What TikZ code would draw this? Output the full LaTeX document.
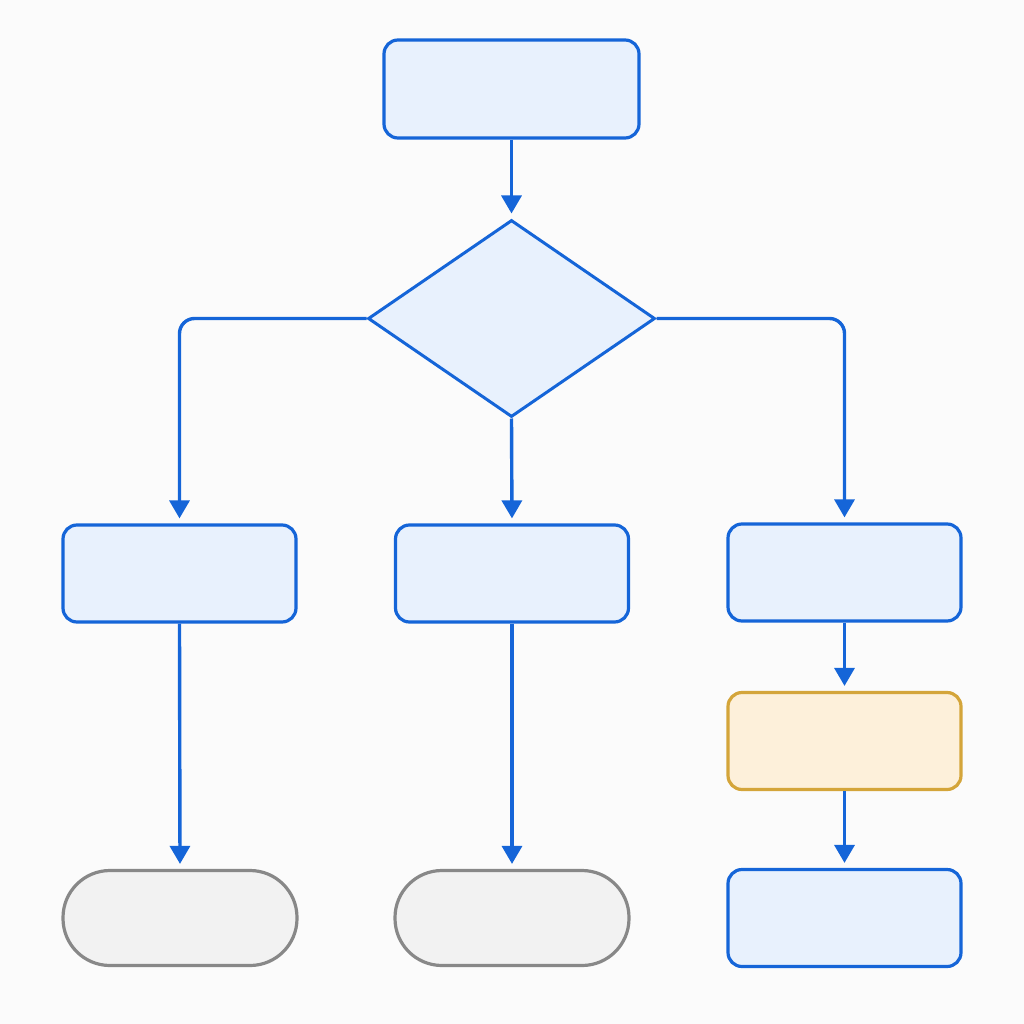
\documentclass[tikz,border=0pt]{standalone}
\usetikzlibrary{shapes.geometric,arrows.meta}
\definecolor{bl}{HTML}{1565D8}
\definecolor{blf}{HTML}{E8F1FD}
\definecolor{orl}{HTML}{D4A53A}
\definecolor{orf}{HTML}{FDF0DA}
\definecolor{grl}{HTML}{888888}
\definecolor{grf}{HTML}{F2F2F2}
\definecolor{bg}{HTML}{FBFBFB}
\tikzset{
  box/.style={draw=bl, fill=blf, line width=3.2pt, rounded corners=14pt, minimum width=233pt, minimum height=97pt, inner sep=0pt},
  topbox/.style={box, minimum width=255pt, minimum height=98pt},
  warnbox/.style={box, draw=orl, fill=orf},
  term/.style={draw=grl, fill=grf, line width=3.2pt, rounded corners=47pt, minimum width=234pt, minimum height=95pt, inner sep=0pt},
  dec/.style={diamond, draw=bl, fill=blf, line width=3pt, minimum width=287pt, minimum height=197pt, inner sep=0pt, aspect=1.46},
  conn/.style={draw=bl, line width=3.4pt, -{Triangle[length=18pt,width=20pt]}, shorten >=5pt, rounded corners=15pt}
}
\begin{document}
\begin{tikzpicture}[x=1pt,y=-1pt]
\fill[bg] (0,0) rectangle (1024,1024);
\useasboundingbox (0,0) rectangle (1024,1024);
\node[topbox] (start) at (511.5,89) {};
\node[dec] (d) at (511.5,318.5) {};
\node[box] (l) at (179.5,573.5) {};
\node[box] (m) at (512,573.5) {};
\node[box] (r) at (844.5,572.5) {};
\node[warnbox] (o) at (844.5,741) {};
\node[term] (tl) at (180,918) {};
\node[term] (tm) at (512,918) {};
\node[box] (br) at (844.5,918) {};
\draw[conn] (start.south) -- (d.north);
\draw[conn] (d.west) -| (l.north);
\draw[conn] (d.south) -- (m.north);
\draw[conn] (d.east) -| (r.north);
\draw[conn] (l.south) -- (tl.north);
\draw[conn] (m.south) -- (tm.north);
\draw[conn] (r.south) -- (o.north);
\draw[conn] (o.south) -- (br.north);
\end{tikzpicture}
\end{document}
